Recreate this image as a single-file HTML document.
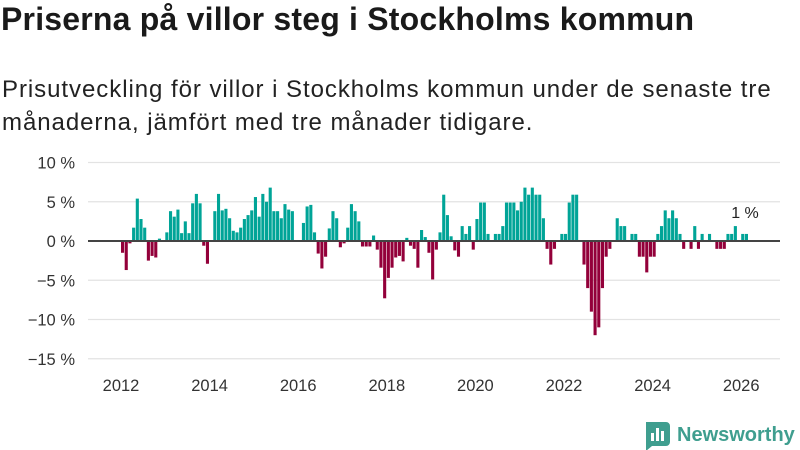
<!DOCTYPE html>
<html><head><meta charset="utf-8"><style>
body{margin:0;width:800px;height:450px;background:#fff;font-family:"Liberation Sans",sans-serif;overflow:hidden;position:relative}
h1{position:absolute;left:1px;top:1px;margin:0;font-size:32px;letter-spacing:0.2px;font-weight:bold;color:#1a1a1a;white-space:nowrap}
.sub{position:absolute;left:2px;top:73px;margin:0;font-size:24px;letter-spacing:0.95px;line-height:33px;color:#222;white-space:nowrap}
svg{position:absolute;left:0;top:0}
</style></head><body>
<h1>Priserna på villor steg i Stockholms kommun</h1>
<p class="sub">Prisutveckling för villor i Stockholms kommun under de senaste tre<br>månaderna, jämfört med tre månader tidigare.</p>
<svg id="chart" width="800" height="450"></svg>
<script>
const startYear = 2012;
const values = [-1.5,-3.7,-0.3,1.7,5.4,2.8,1.7,-2.5,-1.9,-2.1,0.3,0,1.1,3.8,3.1,4.0,1.0,2.5,1.0,4.8,6.0,4.8,-0.6,-2.9,0,3.8,6.0,3.9,4.1,2.9,1.3,1.1,1.7,2.8,3.3,3.9,5.6,3.1,6.0,5.0,6.8,3.8,3.8,2.9,4.7,4.0,3.8,0,0,2.3,4.4,4.6,
1.1,-1.6,-3.5,-2.0,1.6,3.8,2.9,-0.8,-0.3,1.7,4.7,3.8,2.5,-0.7,-0.7,-0.7,0.7,-1.1,-3.4,-7.3,-4.7,-3.4,-2.1,-1.9,-2.6,0.4,-0.6,-1.0,-3.4,1.4,0.5,-1.5,-4.9,-1.1,1.1,5.9,3.3,0.6,-1.2,-2.0,1.9,0.9,1.9,-1.1,2.8,4.9,4.9,0.9,0,0.9,0.9,1.9,4.9,4.9,4.9,3.9,
5.0,6.8,5.9,6.8,5.9,5.9,2.9,-1,-3,-1,0,0.9,0.9,4.9,5.9,5.9,0,-3,-6,-9,-12,-11,-6,-2,-1,0,2.9,1.9,1.9,0,0.9,0.9,-2,-2,-4,-2,-2,0.9,1.9,3.9,2.9,3.9,2.9,0.9,-1,0,-1,1.9,-1,0.9,0,0.9,0,-1,-1,-1,0.9,0.9,1.9,0,0.9,0.9];
const yTicks = [10,5,0,-5,-10,-15];
const yTickLabels = ["10 %","5 %","0 %","−5 %","−10 %","−15 %"];
const xTicks = [2012,2014,2016,2018,2020,2022,2024,2026];
const lastLabel = "1 %";

const NS="http://www.w3.org/2000/svg";
const svg=document.getElementById('chart');
const y=v=>241-v*7.85;
const x=t=>121+(t-2012)*44.3;
function el(tag,attrs,parent){const e=document.createElementNS(NS,tag);for(const k in attrs)e.setAttribute(k,attrs[k]);(parent||svg).appendChild(e);return e;}
yTicks.forEach((t,i)=>{
  if(t!==0){const g=el('line',{x1:88,x2:780,y1:y(t),y2:y(t),stroke:'#e3e3e3','stroke-width':1.2});
  
  }
  const l=el('text',{x:75,y:y(t)+6,'text-anchor':'end','font-size':16.5,fill:'#333'});
  l.textContent=yTickLabels[i];
  
  
});
xTicks.forEach(t=>{
  const l=el('text',{x:x(t),y:391,'text-anchor':'middle','font-size':16.5,fill:'#333'});
  l.textContent=t;
  
  
});
values.forEach((v,i)=>{
  const xs=x(startYear+i/12);
  const b=el('rect',{x:xs,width:3.1,y:Math.min(y(v),y(0)),height:Math.abs(y(v)-y(0)),fill:v>=0?'#00a497':'#93003a'});
  
  
});
const z=el('line',{x1:88,x2:780,y1:y(0),y2:y(0),stroke:'#444','stroke-width':2});


const ll=el('text',{x:745,y:218,'text-anchor':'middle','font-size':16,fill:'#222'});
ll.textContent=lastLabel;


const lg=el('g',{});


el('path',{d:'M646 422 h20 a4 4 0 0 1 4 4 v16 a4 4 0 0 1 -4 4 h-14 l-6 5 z',fill:'#3f9e8f'},lg);
el('rect',{x:651,y:433,width:3,height:8,fill:'#fff'},lg);
el('rect',{x:656,y:428,width:3,height:13,fill:'#fff'},lg);
el('rect',{x:661,y:431,width:3,height:10,fill:'#fff'},lg);
const lt=el('text',{x:677,y:441,'font-size':20,'font-weight':'bold',fill:'#3f9e8f'},lg);
lt.textContent='Newsworthy';
</script>
</body></html>
